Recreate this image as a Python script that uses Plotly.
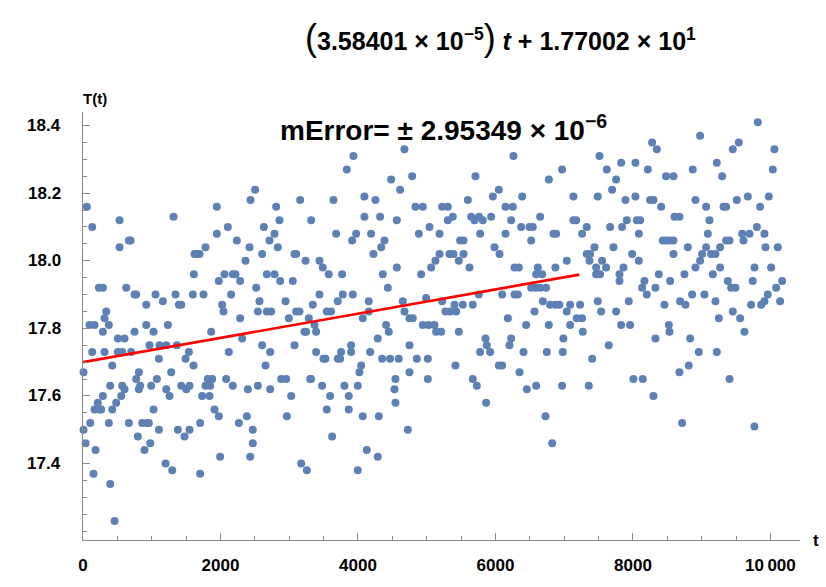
import plotly.graph_objects as go

t_vals = [
 56,134,532,532,667,692,1317,231,289,629,750,774,920,1055,1162,1346,1395,1429,1598,1613,1623,338,313,95,168,920,1235,
 376,289,507,604,750,1026,134,313,507,570,701,968,1114,1211,1366,1540,1492,1104,425,8,813,774,1075,1283,1608,396,570,832,604,813,992,1211,1259,1429,1502,1550,289,216,556,483,168,241,265,425,1026,105,376,667,861,929,958,8,1104,1380,1477,1550,798,37,182,895,978,1201,1298,153,396,459,
 2504,2437,1947,2810,3159,2858,3319,2107,2631,1947,2786,2713,2238,1782,2422,2834,1656,1695,2606,3077,3101,2364,3237,2058,2179,2218,2674,2786,1976,2286,2868,3052,2519,1753,2155,2567,2946,2024,2044,2543,2674,2737,3101,3149,3343,2286,2994,3285,
 1864,2315,2121,2606,2723,3077,3222,3246,3368,2655,1816,1879,2082,2883,2956,3305,1782,1850,2179,2543,2398,2723,1733,1840,3028,1913,1976,2383,2965,1704,2267,2470,2470,1995,2432,3174,3256,1704,
 4676,3934,3837,4482,4613,4788,3643,4094,4254,4836,4943,4094,4322,4565,5040,3682,3915,3973,4191,4385,4337,4225,4885,3440,3488,3575,3769,4361,4565,4919,5064,4434,3440,3779,3925,3706,4157,4652,4991,3546,3609,4157,4676,4749,4070,4409,4797,4943,5030,
 3391,4448,4288,3391,3498,3527,3706,3754,3740,3900,3900,4177,4351,4467,4593,4749,4856,5016,4046,4021,4749,3318,4545,5016,3478,3803,3997,4531,3595,3866,4545,3546,3866,4070,4303,4725,3624,4128,4288,3997,
 6262,5709,6776,6049,5962,6388,5598,5224,5307,6146,6253,5380,5646,5307,5695,5816,5760,5937,6228,6650,6374,6495,6543,5186,5777,6146,6844,5486,5535,6519,5986,6059,5186,5331,5389,5535,5467,5127,5622,6277,6340,6616,6592,6679,6519,6582,6650,6737,5758,6097,6277,6325,5224,6689,5404,5525,5670,6795,5273,5340,5428,6568,6180,6446,6776,
 5113,5137,5210,5467,5855,5874,6228,6204,5777,5922,6408,6747,5418,6049,6097,6350,5670,5729,6592,6456,5864,6728,6825,
 8279,8347,7513,7828,8036,6969,7619,8216,8482,8589,7755,7697,7134,7488,8036,7891,8250,8298,8410,7134,7173,7910,8056,8104,8604,7328,7668,7842,6882,7260,8085,8434,8482,8531,8589,7440,7716,7328,7377,7988,8589,7367,7551,8085,7037,6872,7464,7609,7862,7464,7522,7804,8376,7804,8167,8541,8133,8327,8201,7488,7939,6872,6930,7086,7231,8458,7037,7537,7755,7183,7260,7086,7828,8522,
 7958,8531,7270,6988,8327,7648,6979,7406,8007,8143,8298,6969,7357,
 9816,8977,9540,9452,10058,9220,8870,10034,9297,9671,9976,8909,9511,9064,9317,9355,9850,8676,9113,9802,9089,9588,9695,9913,9355,9404,9608,8798,9064,9268,9928,10107,9006,9137,9200,8977,8909,9268,9768,10010,8749,9162,9380,9743,10170,9428,9491,10083,8861,9040,9961,8686,9200,9913,10141,8764,9719,9865,9452,9559,9249,9622,8832,8958,9220,8812,8676,9404,8715,9767,
]

T_vals = [
 18.16,18.10,18.12,18.04,18.06,18.06,18.13,17.92,17.92,17.92,17.90,17.90,17.87,17.90,17.88,17.90,17.87,17.87,17.90,17.96,18.02,17.85,17.83,17.81,17.81,17.81,17.81,
 17.81,17.79,17.77,17.77,17.79,17.79,17.73,17.73,17.73,17.73,17.73,17.75,17.75,17.75,17.75,17.73,17.71,17.71,17.69,17.67,17.67,17.65,17.65,17.67,17.69,17.63,17.63,17.63,17.62,17.62,17.63,17.62,17.60,17.63,17.62,17.63,17.60,17.58,17.60,17.58,17.56,17.56,17.56,17.56,17.56,17.52,17.52,17.52,17.52,17.52,17.52,17.50,17.50,17.50,17.48,17.50,17.48,17.46,17.44,17.44,17.46,17.40,17.38,17.37,17.34,17.23,
 18.21,18.18,18.16,18.16,18.18,18.12,18.12,18.10,18.10,18.08,18.08,18.06,18.06,18.04,18.04,18.04,18.02,18.02,18.02,18.02,18.02,18.00,18.00,17.96,17.96,17.96,17.96,17.96,17.94,17.94,17.94,17.94,17.92,17.90,17.90,17.88,17.88,17.87,17.85,17.85,17.85,17.85,17.85,17.85,17.87,17.83,17.83,17.83,
 17.79,17.77,17.73,17.75,17.73,17.75,17.79,17.79,17.81,17.69,17.65,17.65,17.65,17.65,17.65,17.65,17.63,17.63,17.63,17.63,17.62,17.62,17.60,17.60,17.60,17.56,17.54,17.54,17.54,17.52,17.52,17.50,17.46,17.42,17.42,17.40,17.38,17.37,
 18.33,18.31,18.27,18.24,18.21,18.25,18.18,18.19,18.18,18.16,18.16,18.13,18.13,18.12,18.10,18.08,18.06,18.08,18.08,18.06,18.04,18.02,18.08,18.00,17.98,17.96,17.96,17.96,17.98,17.96,17.98,17.92,17.90,17.90,17.90,17.88,17.88,17.88,17.89,17.85,17.85,17.85,17.85,17.83,17.83,17.81,17.83,17.81,17.81,
 17.79,17.79,17.77,17.73,17.71,17.71,17.71,17.73,17.71,17.75,17.73,17.73,17.71,17.71,17.71,17.75,17.71,17.71,17.69,17.67,17.67,17.65,17.65,17.65,17.63,17.63,17.63,17.62,17.60,17.60,17.58,17.56,17.56,17.54,17.54,17.50,17.48,17.44,17.42,17.38,
 18.31,18.25,18.24,18.21,18.19,18.19,18.18,18.16,18.16,18.16,18.16,18.13,18.13,18.12,18.12,18.12,18.13,18.13,18.12,18.13,18.10,18.10,18.10,18.08,18.08,18.08,18.08,18.06,18.06,18.06,18.04,18.02,18.02,18.02,18.02,18.02,18.00,18.00,17.98,17.98,17.98,17.98,17.96,17.96,17.92,17.92,17.92,17.92,17.90,17.90,17.90,17.90,17.88,17.88,17.87,17.87,17.87,17.87,17.85,17.85,17.85,17.85,17.83,17.81,17.81,
 17.81,17.79,17.79,17.79,17.77,17.75,17.77,17.75,17.73,17.73,17.73,17.73,17.69,17.69,17.69,17.67,17.65,17.63,17.63,17.62,17.58,17.54,17.46,
 18.35,18.33,18.31,18.29,18.29,18.27,18.27,18.27,18.25,18.25,18.24,18.21,18.19,18.19,18.19,18.18,18.18,18.18,18.16,18.12,18.12,18.12,18.12,18.12,18.13,18.10,18.10,18.10,18.08,18.08,18.08,18.06,18.06,18.06,18.06,18.04,18.04,18.02,18.02,18.02,18.02,18.00,18.00,18.00,18.00,17.98,17.98,17.98,17.98,17.96,17.96,17.96,17.96,17.94,17.94,17.94,17.92,17.92,17.90,17.88,17.88,17.87,17.87,17.87,17.87,17.87,17.85,17.85,17.85,17.83,17.83,17.81,17.81,17.81,
 17.81,17.79,17.79,17.77,17.77,17.75,17.73,17.71,17.65,17.65,17.60,17.63,17.63,
 18.41,18.37,18.35,18.33,18.33,18.29,18.27,18.27,18.25,18.19,18.19,18.18,18.18,18.16,18.16,18.16,18.16,18.13,18.12,18.10,18.08,18.08,18.08,18.08,18.06,18.06,18.06,18.04,18.04,18.04,18.04,18.04,18.02,18.02,18.02,18.00,17.98,17.98,17.98,17.98,17.96,17.96,17.94,17.94,17.94,17.92,17.92,17.92,17.90,17.90,17.90,17.88,17.88,17.88,17.88,17.87,17.87,17.87,17.85,17.83,17.83,17.79,17.77,17.73,17.73,17.69,17.67,17.65,17.52,17.51,
]

slope = 3.58401e-5
intercept = 17.7002
fit_t = [0, 7220]
fit_T = [intercept + slope * t for t in fit_t]

y_ticks = [17.4, 17.6, 17.8, 18.0, 18.2, 18.4]
y_ticktext = ["17.4", "17.6", "17.8", "18.0", "18.2", "18.4"]
x_ticks = [0, 2000, 4000, 6000, 8000, 10000]
x_ticktext = ["0", "2000", "4000", "6000", "8000", "10\u2009000"]

FONT = "Liberation Sans, Arial, sans-serif"
AXC = "#8a8a8a"

fig = go.Figure()
fig.add_trace(go.Scatter(
    x=t_vals, y=T_vals, mode="markers",
    marker=dict(color="#5E81B5", size=8, line=dict(width=0)),
    cliponaxis=False, showlegend=False, hoverinfo="skip"))
fig.add_trace(go.Scatter(
    x=fit_t, y=fit_T, mode="lines",
    line=dict(color="#FF0000", width=2.6),
    cliponaxis=False, showlegend=False))

fig.update_layout(
    width=826, height=587,
    margin=dict(l=83, r=26, t=112, b=40),
    paper_bgcolor="white", plot_bgcolor="white",
    font=dict(family=FONT, color="black"),
    xaxis=dict(range=[0, 10430], showgrid=False, zeroline=False,
               showline=True, linecolor=AXC, linewidth=1.2,
               tickvals=x_ticks, ticktext=x_ticktext,
               ticks="inside", ticklen=7, tickcolor=AXC, tickwidth=1,
               ticklabelstandoff=9,
               minor=dict(dtick=500, tick0=0, ticks="inside", ticklen=4, tickcolor=AXC),
               tickfont=dict(size=17, family=FONT, weight="bold", color="black")),
    yaxis=dict(range=[17.174, 18.44], showgrid=False, zeroline=False,
               showline=True, linecolor=AXC, linewidth=1.2,
               tickvals=y_ticks, showticklabels=False,
               ticks="inside", ticklen=7, tickcolor=AXC, tickwidth=1,
               minor=dict(dtick=0.05, tick0=17.4, ticks="inside", ticklen=4, tickcolor=AXC)),
)

for v, txt in zip(y_ticks, y_ticktext):
    fig.add_annotation(
        text=txt, xref="paper", yref="y", x=0, y=v, xshift=-20,
        xanchor="right", yanchor="middle", showarrow=False,
        font=dict(size=17, family=FONT, weight="bold", color="black"))

fig.add_annotation(
    text="<span style='font-size:36px;font-weight:normal'>(</span>3.58401 \u00d7 10<sup>\u22125</sup><span style='font-size:36px;font-weight:normal'>)</span> <i>t</i> + 1.77002 \u00d7 10<sup>1</sup>",
    xref="paper", yref="paper", x=0, y=1, xshift=417, yshift=75, xanchor="center", yanchor="middle",
    showarrow=False, font=dict(size=25, family=FONT, weight="bold", color="black"))
fig.add_annotation(
    text="mError= \u00b1 2.95349 \u00d7 10<sup>\u22126</sup>",
    xref="paper", yref="paper", x=0, y=1, xshift=360, yshift=-16, xanchor="center", yanchor="middle",
    showarrow=False, font=dict(size=28, family=FONT, weight="bold", color="black"))
fig.add_annotation(
    text="T(t)", xref="paper", yref="paper", x=0, y=1, xshift=12, yshift=14,
    xanchor="center", yanchor="middle", showarrow=False,
    font=dict(size=15, family=FONT, weight="bold", color="black"))
fig.add_annotation(
    text="t", xref="paper", yref="paper", x=1, y=0, xshift=16, yshift=0,
    xanchor="center", yanchor="middle", showarrow=False,
    font=dict(size=17, family=FONT, weight="bold", color="black"))

fig.write_html("out.html")
